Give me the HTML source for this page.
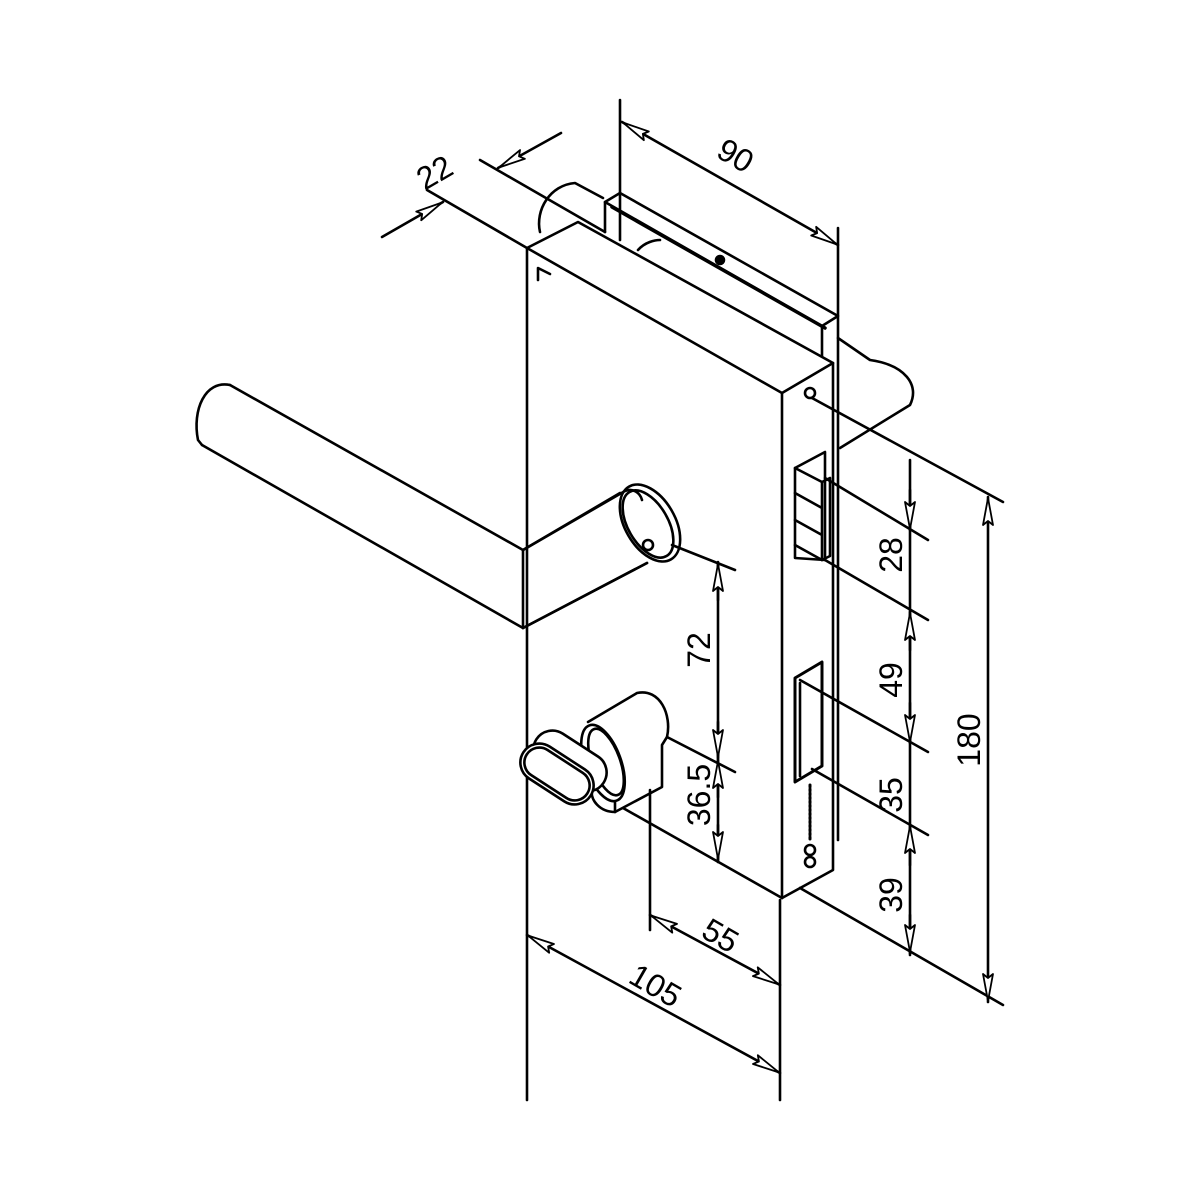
<!DOCTYPE html>
<html><head><style>body{margin:0;background:#fff}svg{display:block}</style></head><body>
<svg width="1200" height="1200" viewBox="0 0 1200 1200" xmlns="http://www.w3.org/2000/svg" fill="none" stroke="#000" stroke-width="2.6" stroke-linejoin="round" stroke-linecap="round">
<defs>
<marker id="s" markerWidth="30" markerHeight="12" refX="0" refY="6" orient="auto" markerUnits="userSpaceOnUse" style="overflow:visible"><path d="M1,6 L28,1 L24,6 L28,11 Z" fill="#fff" stroke="#000" stroke-width="1.8"/></marker>
<marker id="e" markerWidth="30" markerHeight="12" refX="0" refY="6" orient="auto" markerUnits="userSpaceOnUse" style="overflow:visible"><path d="M-1,6 L-28,1 L-24,6 L-28,11 Z" fill="#fff" stroke="#000" stroke-width="1.8"/></marker>
</defs>
<!-- back lever leaf behind -->
<path d="M540,232 C535,210 550,185 575,183 L603,198"/>
<path d="M838,338 L870,360 C905,365 920,385 910,405 L840,448"/>
<!-- plate on top -->
<path d="M605,202 L620,193 L838,316 L822,326 Z"/>
<path d="M605,202 L605,232"/><path d="M620,193 L620,240"/>
<path d="M612,207 L825,328" stroke-width="3.5"/>
<path d="M638,250 C645,242 655,240 660,240"/>
<circle cx="720" cy="260" r="4" fill="#000"/>
<path d="M822,326 L822,358"/>
<!-- box -->
<path d="M527,248 L578,222 L833,363 L782,393 Z" fill="#fff"/>
<path d="M527,248 L527,1100"/>
<path d="M782,393 L782,898"/>
<path d="M833,363 L833,870 L782,898"/>
<path d="M838,228 L838,840"/>
<path d="M538,280 L538,268 L550,274"/>
<circle cx="810" cy="393" r="5"/>
<!-- latch -->
<path d="M795,468 L825,452 L825,560 L795,558 Z"/>
<path d="M795,468 L822,482 L822,560 M795,493 L822,508 M795,520 L822,535 M795,545 L822,560"/>
<path d="M822,482 L830,478 L830,556 L822,560"/>
<!-- slot -->
<path d="M795,678 L822,662 L822,766 L795,782 Z" stroke-width="3"/>
<path d="M800,683 L800,776"/>
<path d="M810,785 L810,840" stroke-dasharray="2 2" stroke-width="3"/>
<circle cx="810" cy="850" r="5"/><circle cx="810" cy="862" r="5"/>
<!-- front bottom edge -->
<path d="M623,808 L782,898"/>
<!-- lever -->
<path d="M230,385 L523,550 L620,493"/>
<path d="M202,445 L523,628 L647,563"/>
<path d="M230,385 C205,380 192,410 198,440 L202,445"/>
<path d="M523,550 L523,628"/>
<ellipse cx="650" cy="523" rx="25" ry="42" transform="rotate(-30 650 523)" fill="#fff"/>
<ellipse cx="648" cy="524" rx="20" ry="37" transform="rotate(-30 648 524)"/>
<path d="M523,550 L625,491 C632,488 640,492 642,500"/>
<path d="M523,628 L647,563"/>
<circle cx="648" cy="545" r="5"/>
<!-- cylinder -->
<path d="M588,722 L637,693 C660,688 672,715 667,737 L662,745 L662,787 L615,812 C600,812 590,800 592,790" fill="#fff"/>
<path d="M615,757 L615,812"/>
<ellipse cx="603" cy="763" rx="18" ry="40" transform="rotate(-20 603 763)" fill="#fff"/>
<ellipse cx="606" cy="762" rx="14" ry="35" transform="rotate(-20 606 762)"/>
<rect x="530" y="742" width="80" height="38" rx="19" transform="rotate(33 570 761)" fill="#fff"/>
<rect x="517" y="755" width="80" height="38" rx="19" transform="rotate(33 557 774)" fill="#fff"/>
<rect x="521" y="759" width="72" height="30" rx="15" transform="rotate(33 557 774)"/>
<!-- dimension 22 -->
<path d="M427,190 L527,248"/><path d="M480,160 L605,232"/>
<path d="M382,237 L443,202" marker-end="url(#e)"/>
<path d="M561,133 L498,168" marker-end="url(#e)"/>
<!-- dimension 90 -->
<path d="M620,100 L620,193"/>
<path d="M622,122 L838,245" marker-start="url(#s)" marker-end="url(#e)"/>
<!-- 180 -->
<path d="M812,398 L1003,502"/><path d="M800,888 L1003,1005"/>
<path d="M988,497 L988,1002" marker-start="url(#s)" marker-end="url(#e)"/>
<!-- small dims -->
<path d="M825,478 L928,540"/><path d="M825,560 L928,620"/><path d="M800,680 L928,752"/><path d="M812,769 L928,835"/>
<path d="M910,460 L910,955"/>
<path d="M910,490 L910,530" marker-end="url(#e)"/>
<path d="M910,650 L910,612" marker-end="url(#e)"/>
<path d="M910,703 L910,743" marker-end="url(#e)"/>
<path d="M910,865 L910,825" marker-end="url(#e)"/>
<path d="M910,915 L910,953" marker-end="url(#e)"/>
<!-- 72 / 36.5 -->
<path d="M672,545 L735,570"/><path d="M667,737 L735,772"/>
<path d="M718,562 L718,862"/>
<path d="M718,600 L718,563" marker-end="url(#e)"/>
<path d="M718,722 L718,758" marker-end="url(#e)"/>
<path d="M718,797 L718,760" marker-end="url(#e)"/>
<path d="M718,825 L718,860" marker-end="url(#e)"/>
<!-- 55 / 105 -->
<path d="M650,790 L650,930"/><path d="M780,900 L780,1100"/>
<path d="M650,915 L780,985" marker-start="url(#s)" marker-end="url(#e)"/>
<path d="M527,935 L780,1073" marker-start="url(#s)" marker-end="url(#e)"/>
<g fill="#000" stroke="none" font-family="Liberation Sans, sans-serif" font-size="32">
<text transform="translate(440,182) rotate(-30)" text-anchor="middle">22</text>
<text transform="translate(730,165) rotate(30)" text-anchor="middle">90</text>
<text transform="translate(710,650) rotate(-90)" text-anchor="middle">72</text>
<text transform="translate(710,795) rotate(-90)" text-anchor="middle">36.5</text>
<text transform="translate(902,555) rotate(-90)" text-anchor="middle">28</text>
<text transform="translate(902,680) rotate(-90)" text-anchor="middle">49</text>
<text transform="translate(902,795) rotate(-90)" text-anchor="middle">35</text>
<text transform="translate(902,895) rotate(-90)" text-anchor="middle">39</text>
<text transform="translate(980,740) rotate(-90)" text-anchor="middle">180</text>
<text transform="translate(715,945) rotate(30)" text-anchor="middle">55</text>
<text transform="translate(650,995) rotate(30)" text-anchor="middle">105</text>
</g>
</svg>
</body></html>
